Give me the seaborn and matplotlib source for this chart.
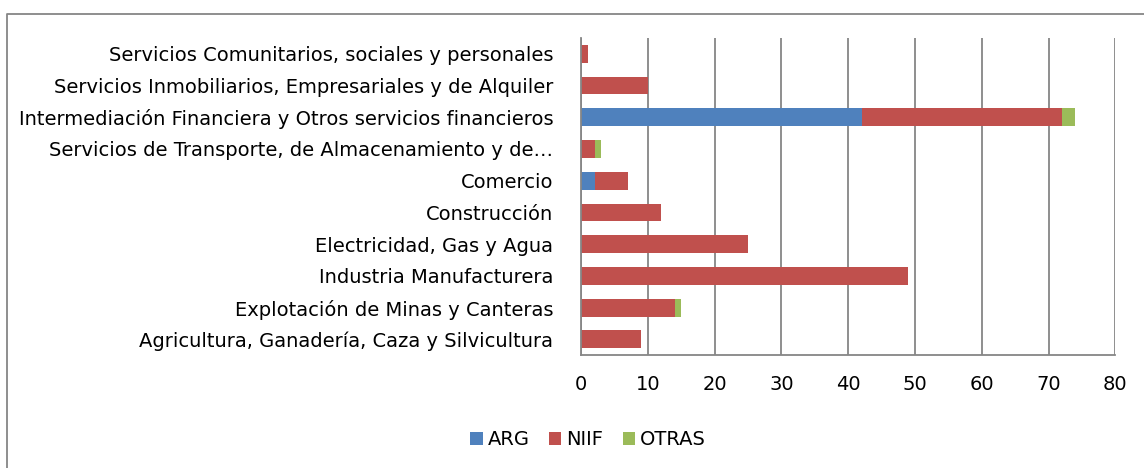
import matplotlib
matplotlib.use("Agg")
import matplotlib.pyplot as plt
import seaborn as sns
import pandas as pd
import numpy as np
from matplotlib.lines import Line2D
from matplotlib.patches import Patch

categories = [
    "Servicios Comunitarios, sociales y personales",
    "Servicios Inmobiliarios, Empresariales y de Alquiler",
    "Intermediación Financiera y Otros servicios financieros",
    "Servicios de Transporte, de Almacenamiento y de…",
    "Comercio",
    "Construcción",
    "Electricidad, Gas y Agua",
    "Industria Manufacturera",
    "Explotación de Minas y Canteras",
    "Agricultura, Ganadería, Caza y Silvicultura",
]
arg = [0, 0, 42, 0, 2, 0, 0, 0, 0, 0]
niif = [1, 10, 30, 2, 5, 12, 25, 49, 14, 9]
otras = [0, 0, 2, 1, 0, 0, 0, 0, 1, 0]
series = ["ARG", "NIIF", "OTRAS"]
colors = ["#4F81BD", "#C0504D", "#9BBB59"]
xticks = [0, 10, 20, 30, 40, 50, 60, 70, 80]

sns.set_style("white")
plt.rcParams["font.family"] = ["DejaVu Sans"]

df = pd.DataFrame({"cat": categories, "ARG": arg, "NIIF": niif, "OTRAS": otras})
df["c1"] = df["ARG"]
df["c2"] = df["ARG"] + df["NIIF"]
df["c3"] = df["c2"] + df["OTRAS"]

fig = plt.figure(figsize=(11.44, 4.68), dpi=100)
ax = fig.add_axes([0.508, 0.241, 0.467, 0.678])

for col, c in zip(["c3", "c2", "c1"], [colors[2], colors[1], colors[0]]):
    sns.barplot(data=df, y="cat", x=col, orient="h", color=c, width=0.56,
                saturation=1, ax=ax, order=categories, linewidth=0)

ax.set_xlim(0, 80)
ax.set_xticks(xticks)
ax.set_xlabel("")
ax.set_ylabel("")
ax.xaxis.grid(True, color="#868686", linewidth=1.3)
ax.set_axisbelow(True)
for s in ["top", "right"]:
    ax.spines[s].set_visible(False)
for s in ["left", "bottom"]:
    ax.spines[s].set_color("#868686")
    ax.spines[s].set_linewidth(1.3)
ax.tick_params(axis="both", length=0, labelsize=14, colors="#000000")
ax.tick_params(axis="x", pad=14)
ax.tick_params(axis="y", pad=20)

handles = [Patch(facecolor=c, edgecolor="none") for c in colors]
leg = fig.legend(handles, series, loc="center", bbox_to_anchor=(0.514, 0.06), ncol=3,
                 frameon=False, fontsize=14, handlelength=0.65, handleheight=0.65,
                 handletextpad=0.25, columnspacing=1.0)
for t in leg.get_texts():
    t.set_color("#000000")

# outer chart border (top and left edges visible)
fig.add_artist(Line2D([7 / 1144, 7 / 1144, 1.0], [0.0, 1 - 14 / 468, 1 - 14 / 468],
                      transform=fig.transFigure, color="#868686", linewidth=1.3))

fig.savefig("out.png", dpi=100)
